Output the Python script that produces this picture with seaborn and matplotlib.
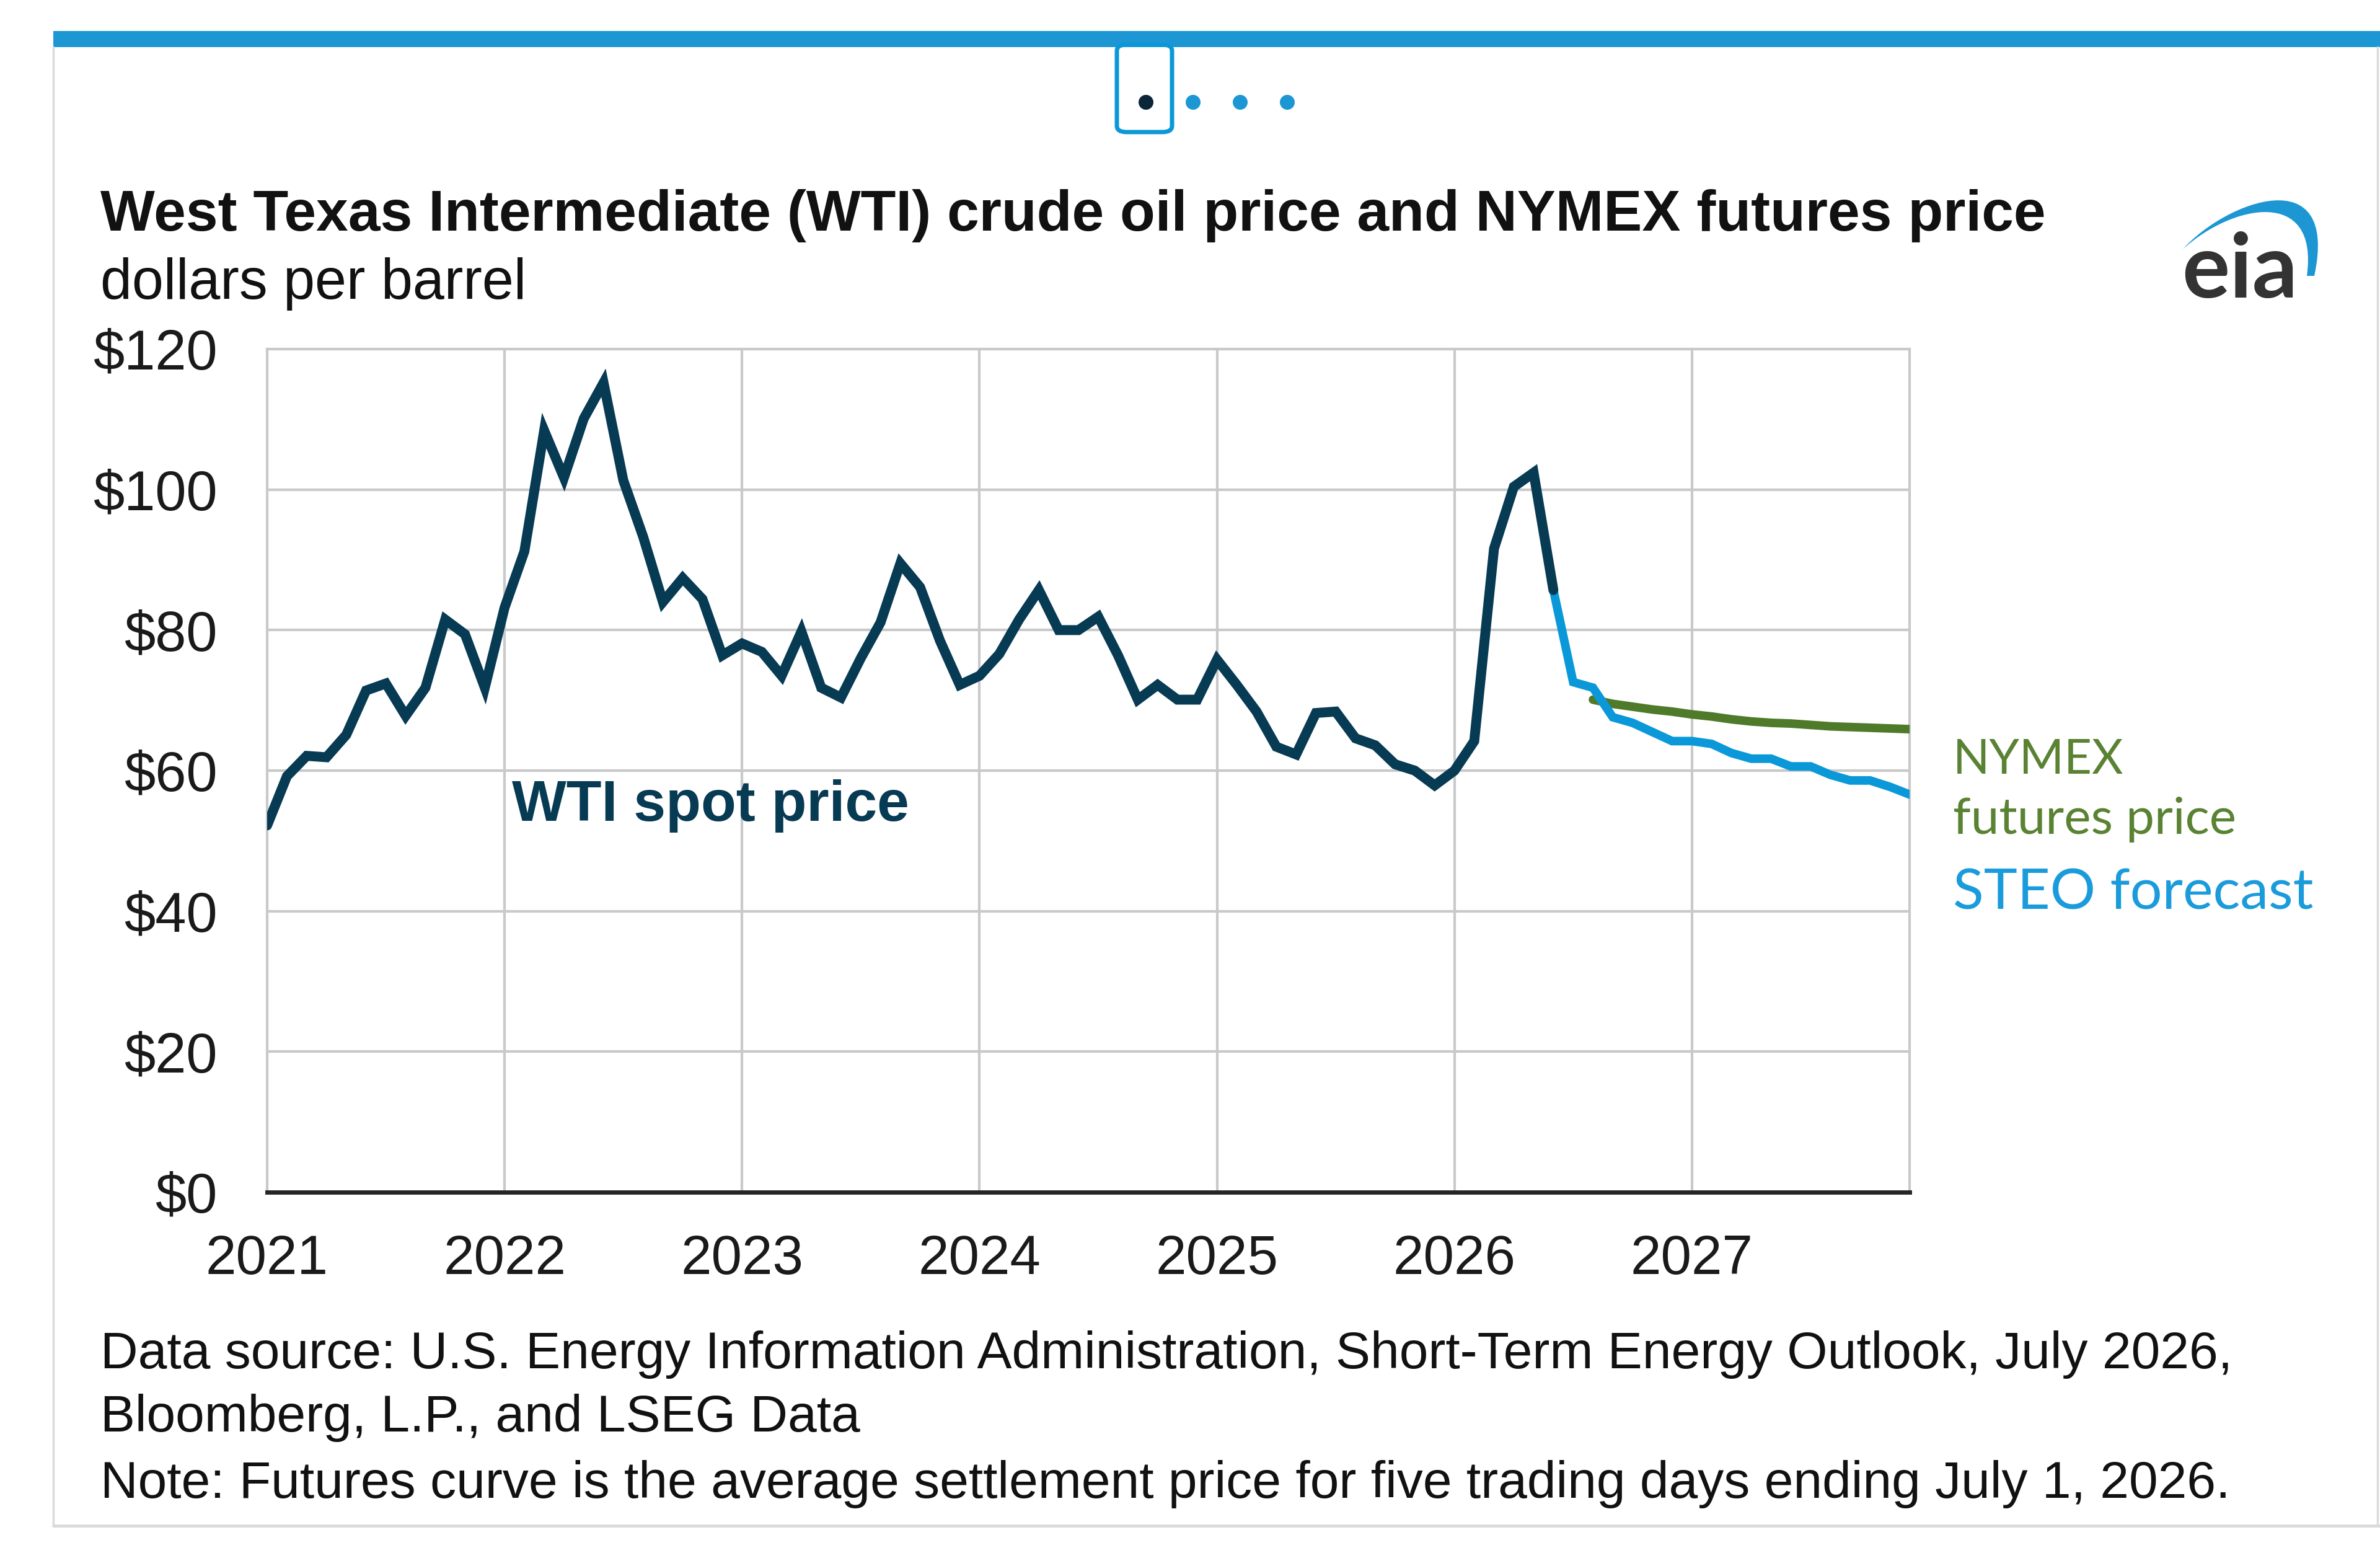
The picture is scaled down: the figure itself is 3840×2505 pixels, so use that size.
import matplotlib
matplotlib.use("Agg")
import matplotlib.pyplot as plt
import matplotlib.patches as mpatches
from matplotlib.path import Path
import seaborn as sns
import pandas as pd
import numpy as np

# ---------------- data ----------------
years = [2021, 2022, 2023, 2024, 2025, 2026, 2027]
year_labels = ["2021", "2022", "2023", "2024", "2025", "2026", "2027"]
y_ticks = [0, 20, 40, 60, 80, 100, 120]
y_labels = ["$0", "$20", "$40", "$60", "$80", "$100", "$120"]

# WTI spot price, monthly Jan 2021 - Jun 2026
wti_spot = [52.2, 59.2, 62.1, 61.9, 65.1, 71.4, 72.4, 67.8, 71.8, 81.5, 79.4, 71.8,
            83.2, 91.2, 108.4, 101.7, 110.1, 115.2, 101.3, 93.3, 84.0, 87.4, 84.4, 76.4,
            78.1, 76.9, 73.5, 79.8, 71.8, 70.4, 76.0, 81.1, 89.5, 86.1, 78.5, 72.2,
            73.5, 76.6, 81.5, 85.7, 80.0, 80.0, 81.9, 76.4, 70.1, 72.2, 70.1, 70.1,
            75.8, 72.2, 68.4, 63.4, 62.3, 68.2, 68.4, 64.6, 63.6, 60.9, 60.0, 57.9,
            60.0, 64.2, 91.6, 100.4, 102.4, 85.7]
# STEO forecast, monthly Jun 2026 - Dec 2027
steo_forecast = [85.7, 72.6, 71.8, 67.6, 66.8, 65.5, 64.2,
                 64.2, 63.8, 62.5, 61.7, 61.7, 60.6, 60.6, 59.4, 58.6, 58.6, 57.7, 56.6]
# NYMEX futures, monthly Aug 2026 - Dec 2027
nymex_futures = [70.1, 69.5, 69.1, 68.7, 68.4,
                 68.0, 67.7, 67.3, 67.0, 66.8, 66.7, 66.5, 66.3, 66.2, 66.1, 66.0, 65.9]

def month_axis(start_year, start_month, n):
    return [start_year + (start_month - 1 + i) / 12.0 for i in range(n)]

df = pd.concat([
    pd.DataFrame({"t": month_axis(2021, 1, len(wti_spot)), "price": wti_spot, "series": "WTI spot price"}),
    pd.DataFrame({"t": month_axis(2026, 6, len(steo_forecast)), "price": steo_forecast, "series": "STEO forecast"}),
    pd.DataFrame({"t": month_axis(2026, 8, len(nymex_futures)), "price": nymex_futures, "series": "NYMEX futures price"}),
], ignore_index=True)

# ---------------- style ----------------
sns.set_style("white")
plt.rcParams["font.family"] = ["Liberation Sans", "DejaVu Sans"]

NAVY = "#073A53"
LBLUE = "#0A98D8"
GREEN = "#4E7A2A"
GRID = "#C9C9C9"

W, H = 3840, 2505
fig = plt.figure(figsize=(W / 100, H / 100), dpi=100)
fig.patch.set_facecolor("white")

def fx(px):
    return px / W

def fy(py):
    return 1 - py / H

ax = fig.add_axes([fx(431), fy(1923), fx(3081) - fx(431), fy(563) - fy(1923)])

palette = {"WTI spot price": NAVY, "STEO forecast": LBLUE, "NYMEX futures price": GREEN}
for name, lw in [("NYMEX futures price", 10.0), ("STEO forecast", 10.0), ("WTI spot price", 11.5)]:
    sns.lineplot(data=df[df.series == name], x="t", y="price", color=palette[name],
                 lw=lw, ax=ax, legend=False, solid_joinstyle="miter", zorder=3)

ax.set_xlim(2021, 2027 + 11 / 12)
ax.set_ylim(0, 120)
ax.set_xticks(years)
ax.set_xticklabels(year_labels)
ax.set_yticks(y_ticks)
ax.set_yticklabels(y_labels)
ax.set_xlabel("")
ax.set_ylabel("")
ax.grid(True, color=GRID, lw=3.0, zorder=0)
ax.set_axisbelow(True)
for s in ["left", "right", "top"]:
    ax.spines[s].set_color(GRID)
    ax.spines[s].set_linewidth(3.0)
ax.spines["bottom"].set_color("#262626")
ax.spines["bottom"].set_linewidth(5.0)
ax.spines["bottom"].set_zorder(4)
ax.tick_params(axis="x", direction="out", length=14, width=2.5, color="#262626",
               labelsize=64, pad=34, labelcolor="#1a1a1a")
ax.tick_params(axis="y", length=0, labelsize=65, pad=58, labelcolor="#1a1a1a")

# series labels
ax.text(2022.03, 55, "WTI spot price", color=NAVY, fontsize=67, fontweight="bold",
        ha="left", va="center")
lab_font = ["Lato", "DejaVu Sans"]
ax.text(2028.10, 61.5, "NYMEX", color="#5A8233", fontsize=56, family=lab_font,
        ha="left", va="center", clip_on=False)
ax.text(2028.10, 53.0, "futures price", color="#5A8233", fontsize=59, family=lab_font,
        ha="left", va="center", clip_on=False)
ax.text(2028.10, 42.5, "STEO forecast", color="#1A9BDB", fontsize=66, family=lab_font,
        ha="left", va="center", clip_on=False)

# ---------------- page decorations ----------------
# frame
fig.add_artist(plt.Line2D([fx(86), fx(86)], [fy(76), fy(2461)], color="#DADADA", lw=2.5))
fig.add_artist(plt.Line2D([fx(86), fx(3840)], [fy(2461), fy(2461)], color="#DADADA", lw=3.5))
fig.add_artist(plt.Line2D([fx(3836), fx(3836)], [fy(76), fy(2461)], color="#DADADA", lw=2.5))
# top blue bar
fig.add_artist(mpatches.Rectangle((fx(86), fy(76)), fx(3840) - fx(86), fy(50) - fy(76),
                                  transform=fig.transFigure, color="#1C97D4", lw=0))
# carousel indicator
fig.add_artist(mpatches.FancyBboxPatch((fx(1802), fy(213)), fx(1891) - fx(1802), fy(72) - fy(213),
                                       boxstyle="round,pad=0,rounding_size=0.004",
                                       transform=fig.transFigure, fill=False,
                                       ec="#0A98D8", lw=5))
for cx, col in [(1849, "#0B2638"), (1925, "#1C97D4"), (2001, "#1C97D4"), (2077, "#1C97D4")]:
    fig.add_artist(mpatches.Ellipse((fx(cx), fy(165)), 24 / W, 24 / H,
                                    transform=fig.transFigure, color=col, lw=0))

# title and subtitle
fig.text(fx(162), fy(372), "West Texas Intermediate (WTI) crude oil price and NYMEX futures price",
         fontsize=67, fontweight="bold", color="#111111", ha="left", va="baseline")
fig.text(fx(162), fy(482), "dollars per barrel", fontsize=66, color="#111111",
         ha="left", va="baseline")

# eia logo
fig.text(fx(3520), fy(480), "eia", fontsize=104, fontweight="bold", color="#333333",
         ha="left", va="baseline", family=["Lato", "DejaVu Sans"])
verts = [(3522, 402), (3590, 325), (3775, 255), (3734, 445), (3722, 445),
         (3742, 300), (3600, 330), (3522, 402), (3522, 402)]
codes = [Path.MOVETO, Path.CURVE4, Path.CURVE4, Path.CURVE4, Path.LINETO,
         Path.CURVE4, Path.CURVE4, Path.CURVE4, Path.CLOSEPOLY]
verts_f = [(fx(x), fy(y)) for x, y in verts]
fig.add_artist(mpatches.PathPatch(Path(verts_f, codes), transform=fig.transFigure,
                                  color="#1C97D4", lw=0))

# footer
fig.text(fx(162), fy(2207), "Data source: U.S. Energy Information Administration, Short-Term Energy Outlook, July 2026,",
         fontsize=60.5, color="#111111", ha="left", va="baseline")
fig.text(fx(162), fy(2309), "Bloomberg, L.P., and LSEG Data",
         fontsize=60.5, color="#111111", ha="left", va="baseline")
fig.text(fx(162), fy(2416), "Note: Futures curve is the average settlement price for five trading days ending July 1, 2026.",
         fontsize=60.5, color="#111111", ha="left", va="baseline")

fig.savefig("out.png", dpi=100, facecolor="white")
